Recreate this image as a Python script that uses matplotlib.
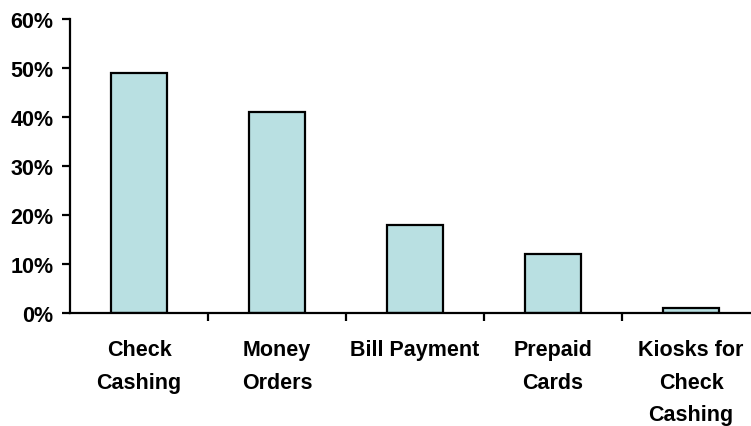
import matplotlib
matplotlib.use('Agg')
import matplotlib.pyplot as plt
from matplotlib.ticker import FuncFormatter
import numpy as np

categories = ['Check\nCashing', 'Money\nOrders', 'Bill Payment', 'Prepaid\nCards', 'Kiosks for\nCheck\nCashing']
values = [0.49, 0.41, 0.18, 0.12, 0.01]

plt.rcParams['font.family'] = ['Liberation Sans', 'DejaVu Sans']
plt.rcParams['font.weight'] = 'bold'

fig = plt.figure(figsize=(7.51, 4.27), dpi=100)
ax = fig.add_axes([70 / 751, 113 / 427, 690 / 751, 294 / 427])

x = np.arange(len(values))
ax.bar(x, values, width=0.41, color='#B9E0E2', edgecolor='black', linewidth=1.6)

ax.set_xlim(-0.5, len(values) - 0.5)
ax.set_ylim(0, 0.6)
ax.set_yticks(np.arange(0, 0.61, 0.1))
ax.yaxis.set_major_formatter(FuncFormatter(lambda v, p: f'{v * 100:.0f}%'))

# category labels centred, tick marks on the boundaries
ax.set_xticks(x)
ax.set_xticklabels(categories, fontsize=15.5, fontweight='bold', linespacing=1.72, va='top')
ax.set_xticks(np.arange(0.5, len(values) - 0.5, 1), minor=True)
ax.tick_params(axis='x', which='major', length=0, pad=19)
ax.tick_params(axis='x', which='minor', length=6, width=1.6, direction='out')
ax.tick_params(axis='y', length=6, width=1.6, direction='out', labelsize=15.5, pad=6)
for lab in ax.get_yticklabels():
    lab.set_fontweight('bold')

for side in ['top', 'right']:
    ax.spines[side].set_visible(False)
for side in ['left', 'bottom']:
    ax.spines[side].set_linewidth(1.6)

fig.savefig('out.png', dpi=100)
plt.close(fig)
